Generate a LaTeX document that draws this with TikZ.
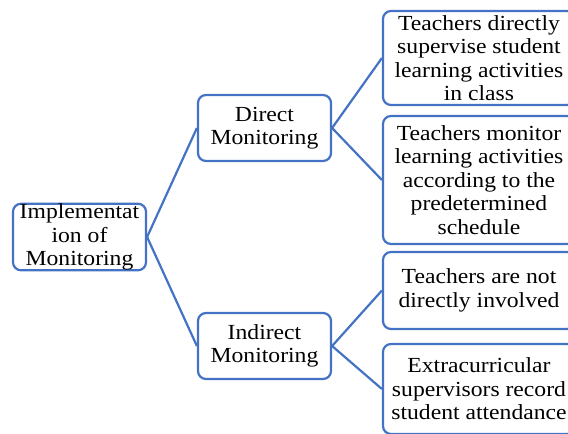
\documentclass[tikz,border=0pt]{standalone}
\usepackage{fontspec}
\setmainfont{Liberation Serif}[FakeStretch=1.1]
\definecolor{boxblue}{RGB}{68,114,196}
\begin{document}
\begin{tikzpicture}[x=1pt,y=-1pt,
  box/.style={draw=boxblue, line width=2.2pt, rounded corners=8pt, fill=white,
    align=center, inner sep=0pt, font=\fontsize{21.5}{23.5}\selectfont},
  link/.style={draw=boxblue, line width=2.2pt}]
\useasboundingbox (0,0) rectangle (568,434);
% tree nodes
\node[box, minimum width=133, minimum height=66] (root) at (79.5,237)
  {Implementat\\ion of\\Monitoring};
\node[box, minimum width=133, minimum height=66] (direct) at (264.5,128)
  {Direct\\Monitoring};
\node[box, minimum width=133, minimum height=66] (indirect) at (264.5,346)
  {Indirect\\Monitoring};
\node[box, minimum width=192, minimum height=94] (b1) at (479,58)
  {Teachers directly\\supervise student\\learning activities\\in class};
\node[box, minimum width=192, minimum height=128] (b2) at (479,180)
  {Teachers monitor\\learning activities\\according to the\\predetermined\\schedule};
\node[box, minimum width=192, minimum height=77] (b3) at (479,290.5)
  {Teachers are not\\directly involved};
\node[box, minimum width=192, minimum height=90] (b4) at (479,389)
  {Extracurricular\\supervisors record\\student attendance};
% connectors
\draw[link] (root.east) -- (direct.west);
\draw[link] (root.east) -- (indirect.west);
\draw[link] (direct.east) -- (b1.west);
\draw[link] (direct.east) -- (b2.west);
\draw[link] (indirect.east) -- (b3.west);
\draw[link] (indirect.east) -- (b4.west);
\end{tikzpicture}
\end{document}
